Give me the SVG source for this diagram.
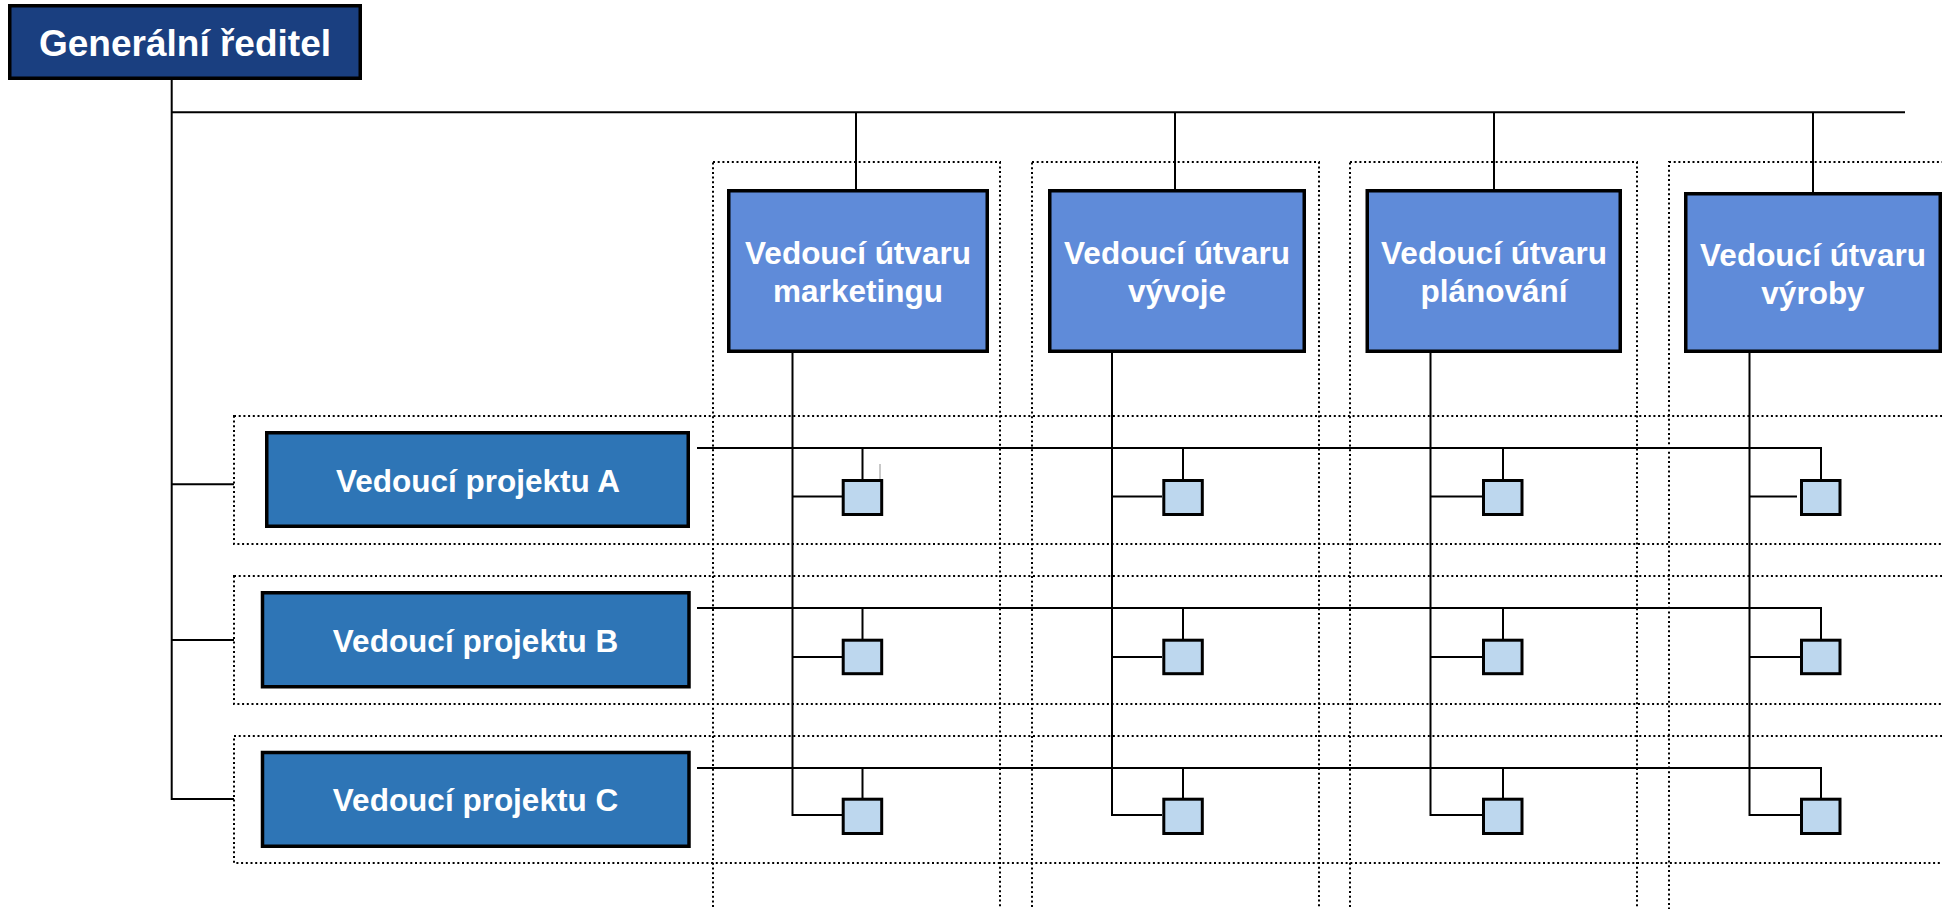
<svg xmlns="http://www.w3.org/2000/svg" width="1942" height="909" viewBox="0 0 1942 909">
<style>
.bg{fill:#ffffff}
.dot{fill:none;stroke:#000;stroke-width:2;stroke-dasharray:2 2.7}
.ln{fill:none;stroke:#000;stroke-width:2}
.gen{fill:#1a3f80;stroke:#000;stroke-width:3.5}
.dept{fill:#5f8bd9;stroke:#000;stroke-width:3.5}
.proj{fill:#2e75b6;stroke:#000;stroke-width:3.5}
.cell{fill:#bdd7ee;stroke:#000;stroke-width:3}
.t{font-family:"Liberation Sans",Arial,sans-serif;font-weight:bold;fill:#fff;text-anchor:middle}
</style>
<rect class="bg" x="0" y="0" width="1942" height="909"/>
<g id="groups">
<rect class="dot" x="713" y="162" width="287" height="760"/>
<rect class="dot" x="1032" y="162" width="287" height="760"/>
<rect class="dot" x="1350" y="162" width="287" height="760"/>
<rect class="dot" x="1669" y="162" width="300" height="760"/>
<rect class="dot" x="234" y="416" width="1720" height="128"/>
<rect class="dot" x="234" y="576" width="1720" height="128"/>
<rect class="dot" x="234" y="736" width="1720" height="127"/>
</g>
<g id="connectors">
<path class="ln" d="M171.7 80V800M171.7 112.3H1905"/>
<path class="ln" d="M171.7 484.3H234M171.7 640H234M171.7 799H234"/>
<path class="ln" d="M856 112.3V189M1175 112.3V189M1494 112.3V189M1813 112.3V192"/>
<path class="ln" d="M792.5 353V815H842M1112 353V815H1162M1430.5 353V815H1482M1749.5 353V815H1800"/>
<path class="ln" d="M792.5 496.5H842M1112 496.5H1162M1430.5 496.5H1482M1749.5 496.5H1797"/>
<path class="ln" d="M792.5 657H842M1112 657H1162M1430.5 657H1482M1749.5 657H1800"/>
<path class="ln" d="M697 448H1821V479M862.5 448V479M1183 448V479M1503 448V479"/>
<path class="ln" d="M697 608H1821V639M862.5 608V639M1183 608V639M1503 608V639"/>
<path class="ln" d="M697 768H1821V798M862.5 768V798M1183 768V798M1503 768V798"/>
<path d="M880 464V496" fill="none" stroke="#c8c8c8" stroke-width="2"/>
</g>
<g id="general">
<rect class="gen" x="9.75" y="5.75" width="350.5" height="72.5"/>
<text class="t" x="185" y="56" font-size="37">Generální ředitel</text>
</g>
<g id="dept-marketing">
<rect class="dept" x="728.75" y="190.75" width="258.5" height="160.5"/>
<text class="t" x="858" y="264" font-size="31.5">Vedoucí útvaru</text>
<text class="t" x="858" y="302" font-size="31.5">marketingu</text>
</g>
<g id="dept-vyvoj">
<rect class="dept" x="1049.75" y="190.75" width="254.5" height="160.5"/>
<text class="t" x="1177" y="264" font-size="31.5">Vedoucí útvaru</text>
<text class="t" x="1177" y="302" font-size="31.5">vývoje</text>
</g>
<g id="dept-planovani">
<rect class="dept" x="1367.25" y="190.75" width="253" height="160.5"/>
<text class="t" x="1494" y="264" font-size="31.5">Vedoucí útvaru</text>
<text class="t" x="1494" y="302" font-size="31.5">plánování</text>
</g>
<g id="dept-vyroba">
<rect class="dept" x="1685.75" y="193.75" width="254.5" height="157.5"/>
<text class="t" x="1813" y="266" font-size="31.5">Vedoucí útvaru</text>
<text class="t" x="1813" y="304" font-size="31.5">výroby</text>
</g>
<g id="proj-a">
<rect class="proj" x="266.75" y="432.75" width="421.5" height="93.5"/>
<text class="t" x="478" y="492.3" font-size="31.5">Vedoucí projektu A</text>
</g>
<g id="proj-b">
<rect class="proj" x="262.5" y="592.75" width="426.5" height="94"/>
<text class="t" x="475.5" y="651.7" font-size="31.5">Vedoucí projektu B</text>
</g>
<g id="proj-c">
<rect class="proj" x="262.5" y="752.5" width="426.5" height="93.75"/>
<text class="t" x="475.5" y="811" font-size="31.5">Vedoucí projektu C</text>
</g>
<g id="cells">
<rect class="cell" x="843.2" y="480.5" width="38.5" height="34"/>
<rect class="cell" x="1163.8" y="480.5" width="38.5" height="34"/>
<rect class="cell" x="1483.5" y="480.5" width="38.5" height="34"/>
<rect class="cell" x="1801.5" y="480.5" width="38.5" height="34"/>
<rect class="cell" x="843.2" y="640.2" width="38.5" height="33.5"/>
<rect class="cell" x="1163.8" y="640.2" width="38.5" height="33.5"/>
<rect class="cell" x="1483.5" y="640.2" width="38.5" height="33.5"/>
<rect class="cell" x="1801.5" y="640.2" width="38.5" height="33.5"/>
<rect class="cell" x="843.2" y="799.2" width="38.5" height="34.3"/>
<rect class="cell" x="1163.8" y="799.2" width="38.5" height="34.3"/>
<rect class="cell" x="1483.5" y="799.2" width="38.5" height="34.3"/>
<rect class="cell" x="1801.5" y="799.2" width="38.5" height="34.3"/>
</g>
</svg>
